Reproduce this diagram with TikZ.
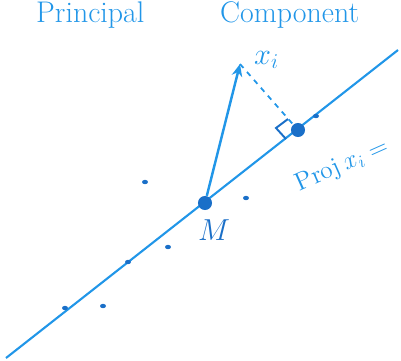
\documentclass[tikz,border=0pt]{standalone}
\usepackage{tikz}
\usetikzlibrary{arrows.meta}
\definecolor{PenBlue}{HTML}{2196E8}
\definecolor{InkBlue}{HTML}{1A6FC8}

\begin{document}
\begin{tikzpicture}[x=0.02cm,y=-0.02cm]
\path[use as bounding box] (0,0) rectangle (401,360);
\clip (0,0) rectangle (401,360);
% title
\node[anchor=base west,PenBlue,font=\fontsize{17}{20}\selectfont] (ttlA) at (30,22) {Principal};
\node[anchor=base west,PenBlue,font=\fontsize{17}{20}\selectfont] (ttlB) at (214,22) {Component};
% principal direction
\coordinate (lo) at (6,358);
\coordinate (hi) at (398,50);
\draw[PenBlue,line width=1.2pt] (lo) -- (hi);
\node[circle,fill=InkBlue,inner sep=0pt,minimum size=8pt] (M) at (205,203) {};
\node[circle,fill=InkBlue,inner sep=0pt,minimum size=8pt] (P) at (298,130) {};
\coordinate (X) at (240,64);
\draw[PenBlue,line width=1.4pt,-{Stealth[length=7pt,width=6pt]}] (M) -- (X);
\draw[PenBlue,line width=1pt,dashed] (X) -- (P);
% right angle
\draw[InkBlue,line width=1.1pt] (286,139) -- (276,128) -- (288,119);
% labels
\node[PenBlue,font=\LARGE,anchor=west] (lx) at (248,60) {$x_i$};
\node[InkBlue,font=\LARGE] (lM) at (214,230) {$M$};
\node[PenBlue,font=\Large,rotate=24,anchor=base west] (lP) at (294,194) {Proj\,$x_i =$};
% sample points
\foreach \px/\py in {145/182,168/247,128/262,65/308,103/306,246/198,316/116}
  \fill[InkBlue] (\px,\py) ellipse (3 and 2.2);
\end{tikzpicture}
\end{document}
